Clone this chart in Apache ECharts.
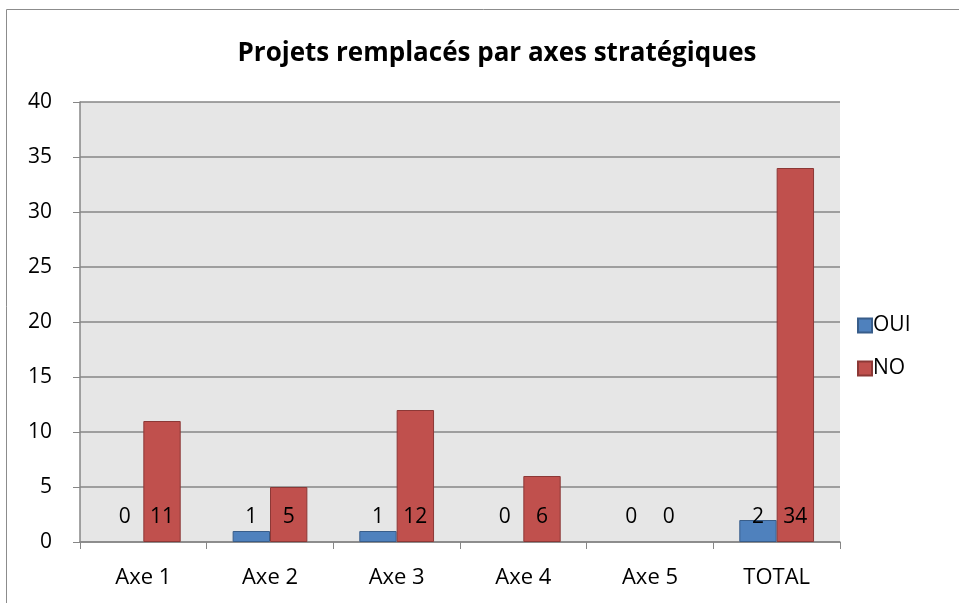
<!DOCTYPE html>
<html>
<head>
<meta charset="utf-8">
<script src="https://cdn.jsdelivr.net/npm/echarts@6/dist/echarts.min.js"></script>
<style>
  html, body { margin: 0; padding: 0; background: #fff; }
  #chart { width: 959px; height: 603px; }
</style>
</head>
<body>
<div id="chart"></div>
<script>
// données
var categories = ["Axe 1", "Axe 2", "Axe 3", "Axe 4", "Axe 5", "TOTAL"];
var ouiValues = [0, 1, 1, 0, 0, 2];
var noValues = [11, 5, 12, 6, 0, 34];
var yTicks = { min: 0, max: 40, interval: 5 };

var font = "'Open Sans', 'Liberation Sans', sans-serif";

// pas de trait pour les barres à zéro
function toData(arr) {
  return arr.map(function (v) {
    return v === 0 ? { value: 0, itemStyle: { borderWidth: 0 } } : v;
  });
}

var chart = echarts.init(document.getElementById("chart"));

// étiquette commune : toujours au même niveau, près de l'axe
var valueLabel = {
  show: true,
  position: "insideBottom",
  distance: 14,
  color: "#000",
  fontSize: 21,
  fontFamily: font
};

chart.setOption({
  animation: false,
  title: {
    text: "Projets remplacés par axes stratégiques",
    left: 492,
    top: 36,
    textAlign: "center",
    textStyle: { fontFamily: font, fontWeight: "bold", fontSize: 26, color: "#000" }
  },
  graphic: [{
    type: "rect",
    shape: { x: 6.5, y: 9.5, width: 960, height: 600 },
    style: { fill: "none", stroke: "#8c8c8c", lineWidth: 1 },
    silent: true
  }],
  legend: {
    orient: "vertical",
    left: 852,
    top: 310,
    icon: "rect",
    itemWidth: 14,
    itemHeight: 14,
    itemGap: 22,
    textStyle: { fontFamily: font, fontSize: 21, color: "#000", padding: [0, 0, 0, -4] },
    data: ["OUI", "NO"]
  },
  grid: {
    left: 80, right: 119, top: 102, bottom: 61,
    show: true, backgroundColor: "#e6e6e6", borderWidth: 0
  },
  xAxis: {
    type: "category",
    data: categories,
    axisLine: { lineStyle: { color: "#868686", width: 1.5 } },
    axisTick: { show: true, length: 7, lineStyle: { color: "#868686" } },
    axisLabel: { margin: 25, color: "#000", fontSize: 22, fontFamily: font }
  },
  yAxis: {
    type: "value",
    min: yTicks.min,
    max: yTicks.max,
    interval: yTicks.interval,
    axisLine: { show: true, lineStyle: { color: "#868686", width: 1.5 } },
    axisTick: { show: true, length: 7, lineStyle: { color: "#868686" } },
    splitLine: { lineStyle: { color: "#868686", width: 1.5 } },
    axisLabel: { margin: 28, color: "#000", fontSize: 21, fontFamily: font }
  },
  series: [
    {
      name: "OUI",
      type: "bar",
      data: toData(ouiValues),
      barGap: "0%",
      barCategoryGap: "41%",
      itemStyle: { color: "#4f81bd", borderColor: "#385d8a", borderWidth: 1 },
      label: valueLabel
    },
    {
      name: "NO",
      type: "bar",
      data: toData(noValues),
      itemStyle: { color: "#c0504d", borderColor: "#8c3836", borderWidth: 1 },
      label: valueLabel
    }
  ]
});
</script>
</body>
</html>
